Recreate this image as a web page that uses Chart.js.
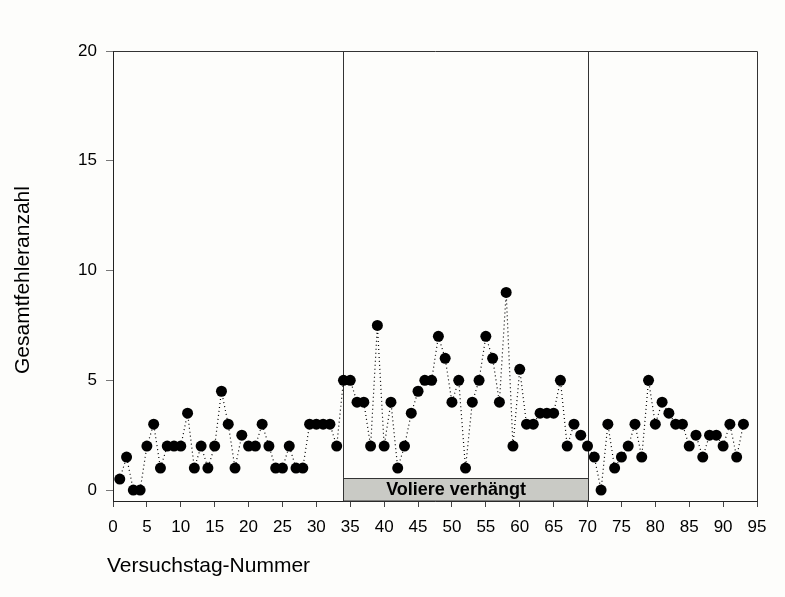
<!DOCTYPE html>
<html>
<head>
<meta charset="utf-8">
<script src="https://cdn.jsdelivr.net/npm/chart.js@4/dist/chart.umd.min.js"></script>
<style>
  html, body { margin: 0; padding: 0; background: #fdfdfb; }
  #wrap { width: 785px; height: 597px; }
</style>
</head>
<body>
<div id="wrap"><canvas id="chart" width="785" height="597"></canvas></div>
<script>
// Daten
const days = [];
for (let d = 1; d <= 93; d++) days.push(d);
const errors = [
  0.5, 1.5, 0, 0, 2, 3, 1, 2, 2, 2,
  3.5, 1, 2, 1, 2, 4.5, 3, 1, 2.5, 2,
  2, 3, 2, 1, 1, 2, 1, 1, 3, 3,
  3, 3, 2, 5, 5, 4, 4, 2, 7.5, 2,
  4, 1, 2, 3.5, 4.5, 5, 5, 7, 6, 4,
  5, 1, 4, 5, 7, 6, 4, 9, 2, 5.5,
  3, 3, 3.5, 3.5, 3.5, 5, 2, 3, 2.5, 2,
  1.5, 0, 3, 1, 1.5, 2, 3, 1.5, 5, 3,
  4, 3.5, 3, 3, 2, 2.5, 1.5, 2.5, 2.5, 2,
  3, 1.5, 3
];
const xTicks = [0, 5, 10, 15, 20, 25, 30, 35, 40, 45, 50, 55, 60, 65, 70, 75, 80, 85, 90, 95];
const yTicks = [0, 5, 10, 15, 20];
const coverDays = [34, 70];      // Voliere verhängt
const coverTop = 0.55;
const coverLabel = 'Voliere verhängt';
const coverLabelX = 50.6;

const FONT = "'Liberation Sans', Arial, sans-serif";

((d) => {
  const CHART = d.getElementById('chart');

  const frame = {
    id: 'frame',
    beforeDraw(chart) {
      const ctx = chart.ctx;
      ctx.save();
      ctx.fillStyle = '#fdfdfb';
      ctx.fillRect(0, 0, chart.width, chart.height);
      ctx.restore();
    },
    beforeDatasetsDraw(chart) {
      const { ctx, chartArea: a, scales: { x, y } } = chart;
      ctx.save();
      // Trennlinien
      ctx.strokeStyle = '#333';
      ctx.lineWidth = 1;
      coverDays.forEach((v) => {
        const px = Math.round(x.getPixelForValue(v)) + 0.5;
        ctx.beginPath();
        ctx.moveTo(px, a.top);
        ctx.lineTo(px, y.getPixelForValue(coverTop));
        ctx.stroke();
      });
      // grauer Balken
      const x0 = Math.round(x.getPixelForValue(coverDays[0])) + 0.5;
      const x1 = Math.round(x.getPixelForValue(coverDays[1])) + 0.5;
      const y0 = Math.round(y.getPixelForValue(coverTop)) + 0.5;
      ctx.fillStyle = '#c9cac5';
      ctx.fillRect(x0, y0, x1 - x0, a.bottom - y0);
      ctx.strokeStyle = '#333';
      ctx.strokeRect(x0, y0, x1 - x0, a.bottom - y0);
      ctx.fillStyle = '#000';
      ctx.font = 'bold 18px ' + FONT;
      ctx.textAlign = 'center';
      ctx.textBaseline = 'middle';
      ctx.fillText(coverLabel, x.getPixelForValue(coverLabelX), (y0 + a.bottom) / 2 + 0.5);
      ctx.restore();
    },
    afterDraw(chart) {
      const { ctx, chartArea: a } = chart;
      ctx.save();
      ctx.strokeStyle = '#333';
      ctx.lineWidth = 1;
      ctx.beginPath();
      ctx.moveTo(Math.round(a.left) + 0.5, Math.round(a.top) + 0.5);
      ctx.lineTo(Math.round(a.right) + 0.5, Math.round(a.top) + 0.5);
      ctx.lineTo(Math.round(a.right) + 0.5, Math.round(a.bottom) + 0.5);
      ctx.stroke();
      // Achsentitel
      ctx.fillStyle = '#000';
      ctx.font = '21px ' + FONT;
      ctx.textAlign = 'left';
      ctx.textBaseline = 'alphabetic';
      ctx.fillText('Versuchstag-Nummer', 107, 572);
      ctx.translate(29, 280);
      ctx.rotate(-Math.PI / 2);
      ctx.textAlign = 'center';
      ctx.fillText('Gesamtfehleranzahl', 0, 0);
      ctx.restore();
    }
  };

  new Chart(CHART, {
    type: 'line',
    data: {
      datasets: [
        {
          data: days.map((v, i) => ({ x: v, y: errors[i] })),
          borderColor: '#000',
          borderWidth: 1.2,
          borderDash: [1, 3],
          pointRadius: 5.5,
          pointHoverRadius: 5.5,
          pointBackgroundColor: '#000',
          pointBorderWidth: 0,
          tension: 0,
        },
      ],
    },
    options: {
      responsive: false,
      animation: false,
      events: [],
      layout: {
        padding: { top: 51, right: 28, left: 0, bottom: 0 },
      },
      plugins: {
        legend: { display: false },
        tooltip: { enabled: false },
      },
      scales: {
        x: {
          type: 'linear',
          min: 0,
          max: 95,
          afterBuildTicks: (s) => { s.ticks = xTicks.map((v) => ({ value: v })); },
          afterFit: (s) => { s.height = 96; },
          grid: { drawOnChartArea: false, tickLength: 6, tickColor: '#444' },
          border: { color: '#222', width: 1 },
          ticks: { color: '#000', font: { size: 17, family: FONT }, padding: 10, maxRotation: 0 },
        },
        y: {
          min: -0.5,
          max: 20,
          afterBuildTicks: (s) => { s.ticks = yTicks.map((v) => ({ value: v })); },
          afterFit: (s) => { s.width = 113; },
          grid: { drawOnChartArea: false, tickLength: 7, tickColor: '#777' },
          border: { color: '#222', width: 1 },
          ticks: { color: '#000', font: { size: 17, family: FONT }, padding: 9 },
        },
      },
    },
    plugins: [frame],
  });
})(document);
</script>
</body>
</html>
